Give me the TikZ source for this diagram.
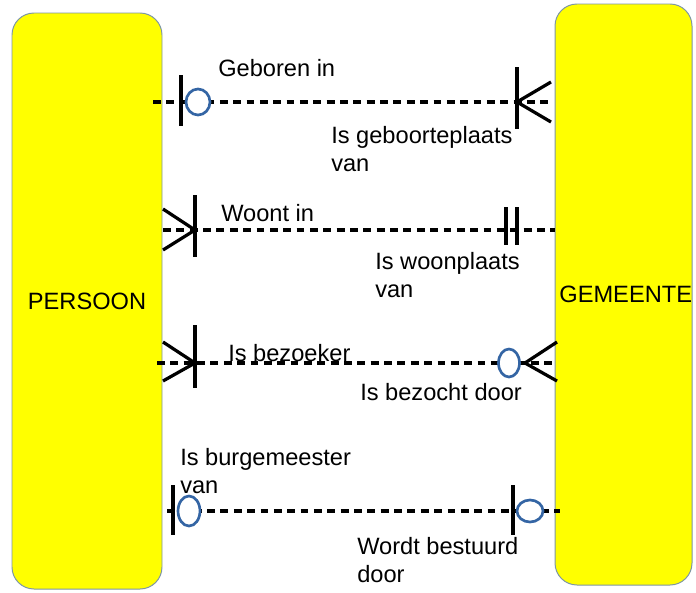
\documentclass[tikz,border=0pt]{standalone}
\usepackage{fontspec}
\setmainfont{Liberation Sans}
\usetikzlibrary{positioning}
\newlength\pix
\setlength\pix{0.025cm}
\definecolor{geel}{RGB}{255,255,0}
\definecolor{rand}{RGB}{125,150,165}
\definecolor{ovaal}{RGB}{52,101,164}
\tikzstyle{entiteit} = [rectangle, rounded corners=22\pix, fill=geel, draw=rand, line width=0.7pt, font=\fontsize{16.8}{20}\selectfont]
\tikzstyle{relatie} = [line width=2.3pt, dash pattern=on 5.6pt off 3.9pt]
\tikzstyle{poot} = [line width=2.3pt]
\tikzstyle{nul} = [draw=ovaal, fill=white, line width=1.9pt]
\tikzstyle{tekst} = [anchor=west, inner sep=0pt, align=left, font=\fontsize{16.8}{19.6}\selectfont]

\begin{document}
\begin{tikzpicture} [x=\pix, y=-\pix]
\useasboundingbox (0,0) rectangle (696,592);
\node (persoon) [entiteit, minimum width=150\pix, minimum height=576\pix] at (87,301) {PERSOON};
\node (gemeente) [entiteit, minimum width=137\pix, minimum height=581\pix, text width=137\pix, align=right, inner xsep=0pt] at (623.5,294.5) {GEMEENTE};

\coordinate (p1) at (153,102);
\coordinate (g1) at (553,102);
\coordinate (p2) at (163,230);
\coordinate (g2) at (555,230);
\coordinate (p3) at (157,363);
\coordinate (g3) at (556,363);
\coordinate (p4) at (167,511);
\coordinate (g4) at (560,511);

% geboren in
\draw [relatie] (p1) -- (g1);
\draw [poot] (181,75) -- (181,126);
\draw [nul] (198,102) ellipse [x radius=12\pix, y radius=13\pix];
\draw [poot] (517,67) -- (517,129);
\draw [poot] (551,82) -- (517,102) -- (551,122);
\node (geboren) [tekst] at (218,68) {Geboren in};
\node (geboorteplaats) [tekst] at (331,149) {Is geboorteplaats\\van};

% woont in
\draw [relatie] (p2) -- (g2);
\draw [poot] (163,209) -- (195,230) -- (163,250);
\draw [poot] (195,195) -- (195,257);
\draw [poot] (506,207) -- (506,245);
\draw [poot] (517,207) -- (517,245);
\node (woont) [tekst] at (221,213) {Woont in};
\node (woonplaats) [tekst] at (375,275) {Is woonplaats\\van};

% bezoeker
\draw [relatie] (p3) -- (g3);
\draw [poot] (163,342) -- (195,363) -- (163,381);
\draw [poot] (195,325) -- (195,388);
\draw [nul] (509,363) ellipse [x radius=10.5\pix, y radius=14\pix];
\draw [poot] (557,342) -- (525,363) -- (557,381);
\node (bezoeker) [tekst] at (228,353) {Is bezoeker};
\node (bezocht) [tekst] at (360,392) {Is bezocht door};

% burgemeester
\draw [relatie] (p4) -- (g4);
\draw [poot] (173,485) -- (173,535);
\draw [nul] (189,511) ellipse [x radius=11\pix, y radius=15\pix];
\draw [poot] (513,485) -- (513,535);
\draw [nul] (530,511) ellipse [x radius=13\pix, y radius=11\pix];
\node (burgemeester) [tekst] at (180,471) {Is burgemeester\\van};
\node (bestuurd) [tekst] at (357,560) {Wordt bestuurd\\door};
\end{tikzpicture}
\end{document}
